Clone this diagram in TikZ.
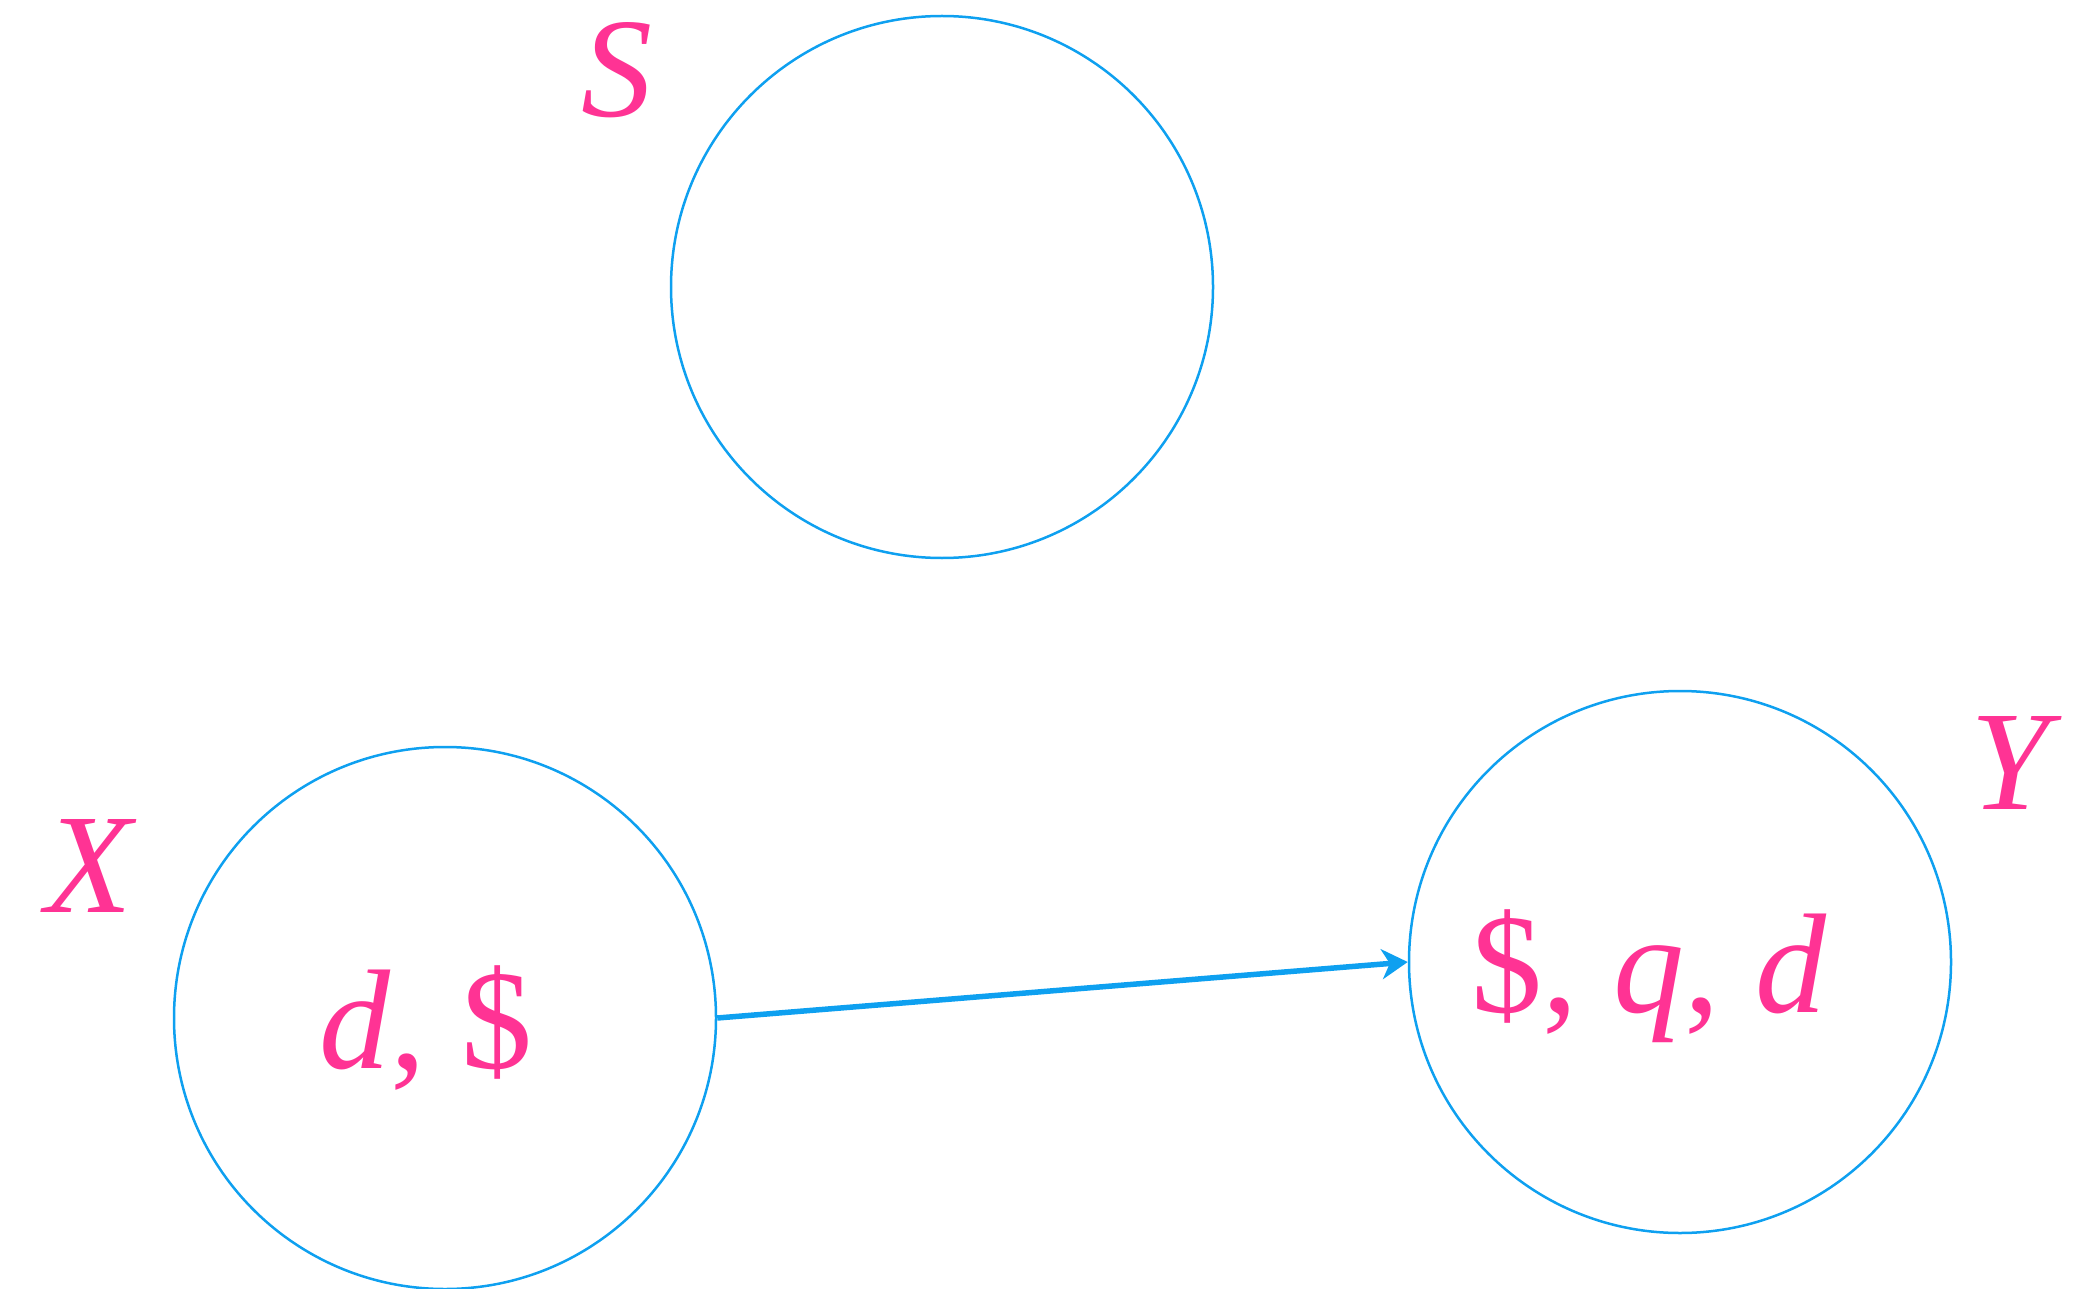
\documentclass[tikz,border=0pt]{standalone}
\usepackage{fontspec}
\newfontfamily\lblfont{Liberation Serif}
\usetikzlibrary{arrows.meta}
\definecolor{pk}{HTML}{FF3394}
\definecolor{bl}{HTML}{0EA0F0}
\tikzset{
  setc/.style={draw=bl, line width=2.5pt, circle, minimum size=542pt, inner sep=0pt},
  lbl/.style={text=pk, font=\lblfont\fontsize{142}{144}\selectfont, inner sep=0pt, anchor=base},
  conn/.style={draw=bl, line width=5.5pt, -{Stealth[length=26pt,width=30pt,inset=8pt]}}
}
\begin{document}
\begin{tikzpicture}[x=1pt,y=-1pt]
\useasboundingbox (0,0) rectangle (2075,1289);
\node[setc] (S) at (942,287) {};
\node[setc] (X) at (445,1018) {};
\node[setc] (Y) at (1680,962) {};
\node[lbl] (Sl) at (617,117) {\itshape S};
\node[lbl] (Xl) at (89,912) {\itshape X};
\node[lbl] (Yl) at (2010,809) {\itshape Y};
\node[lbl] (Xc) at (426,1068) {\itshape d\upshape, \$};
\node[lbl] (Yc) at (1649,1012) {\$, \itshape q\upshape, \itshape d};
\draw[conn] (X.east) -- (Y.west);
\end{tikzpicture}
\end{document}
